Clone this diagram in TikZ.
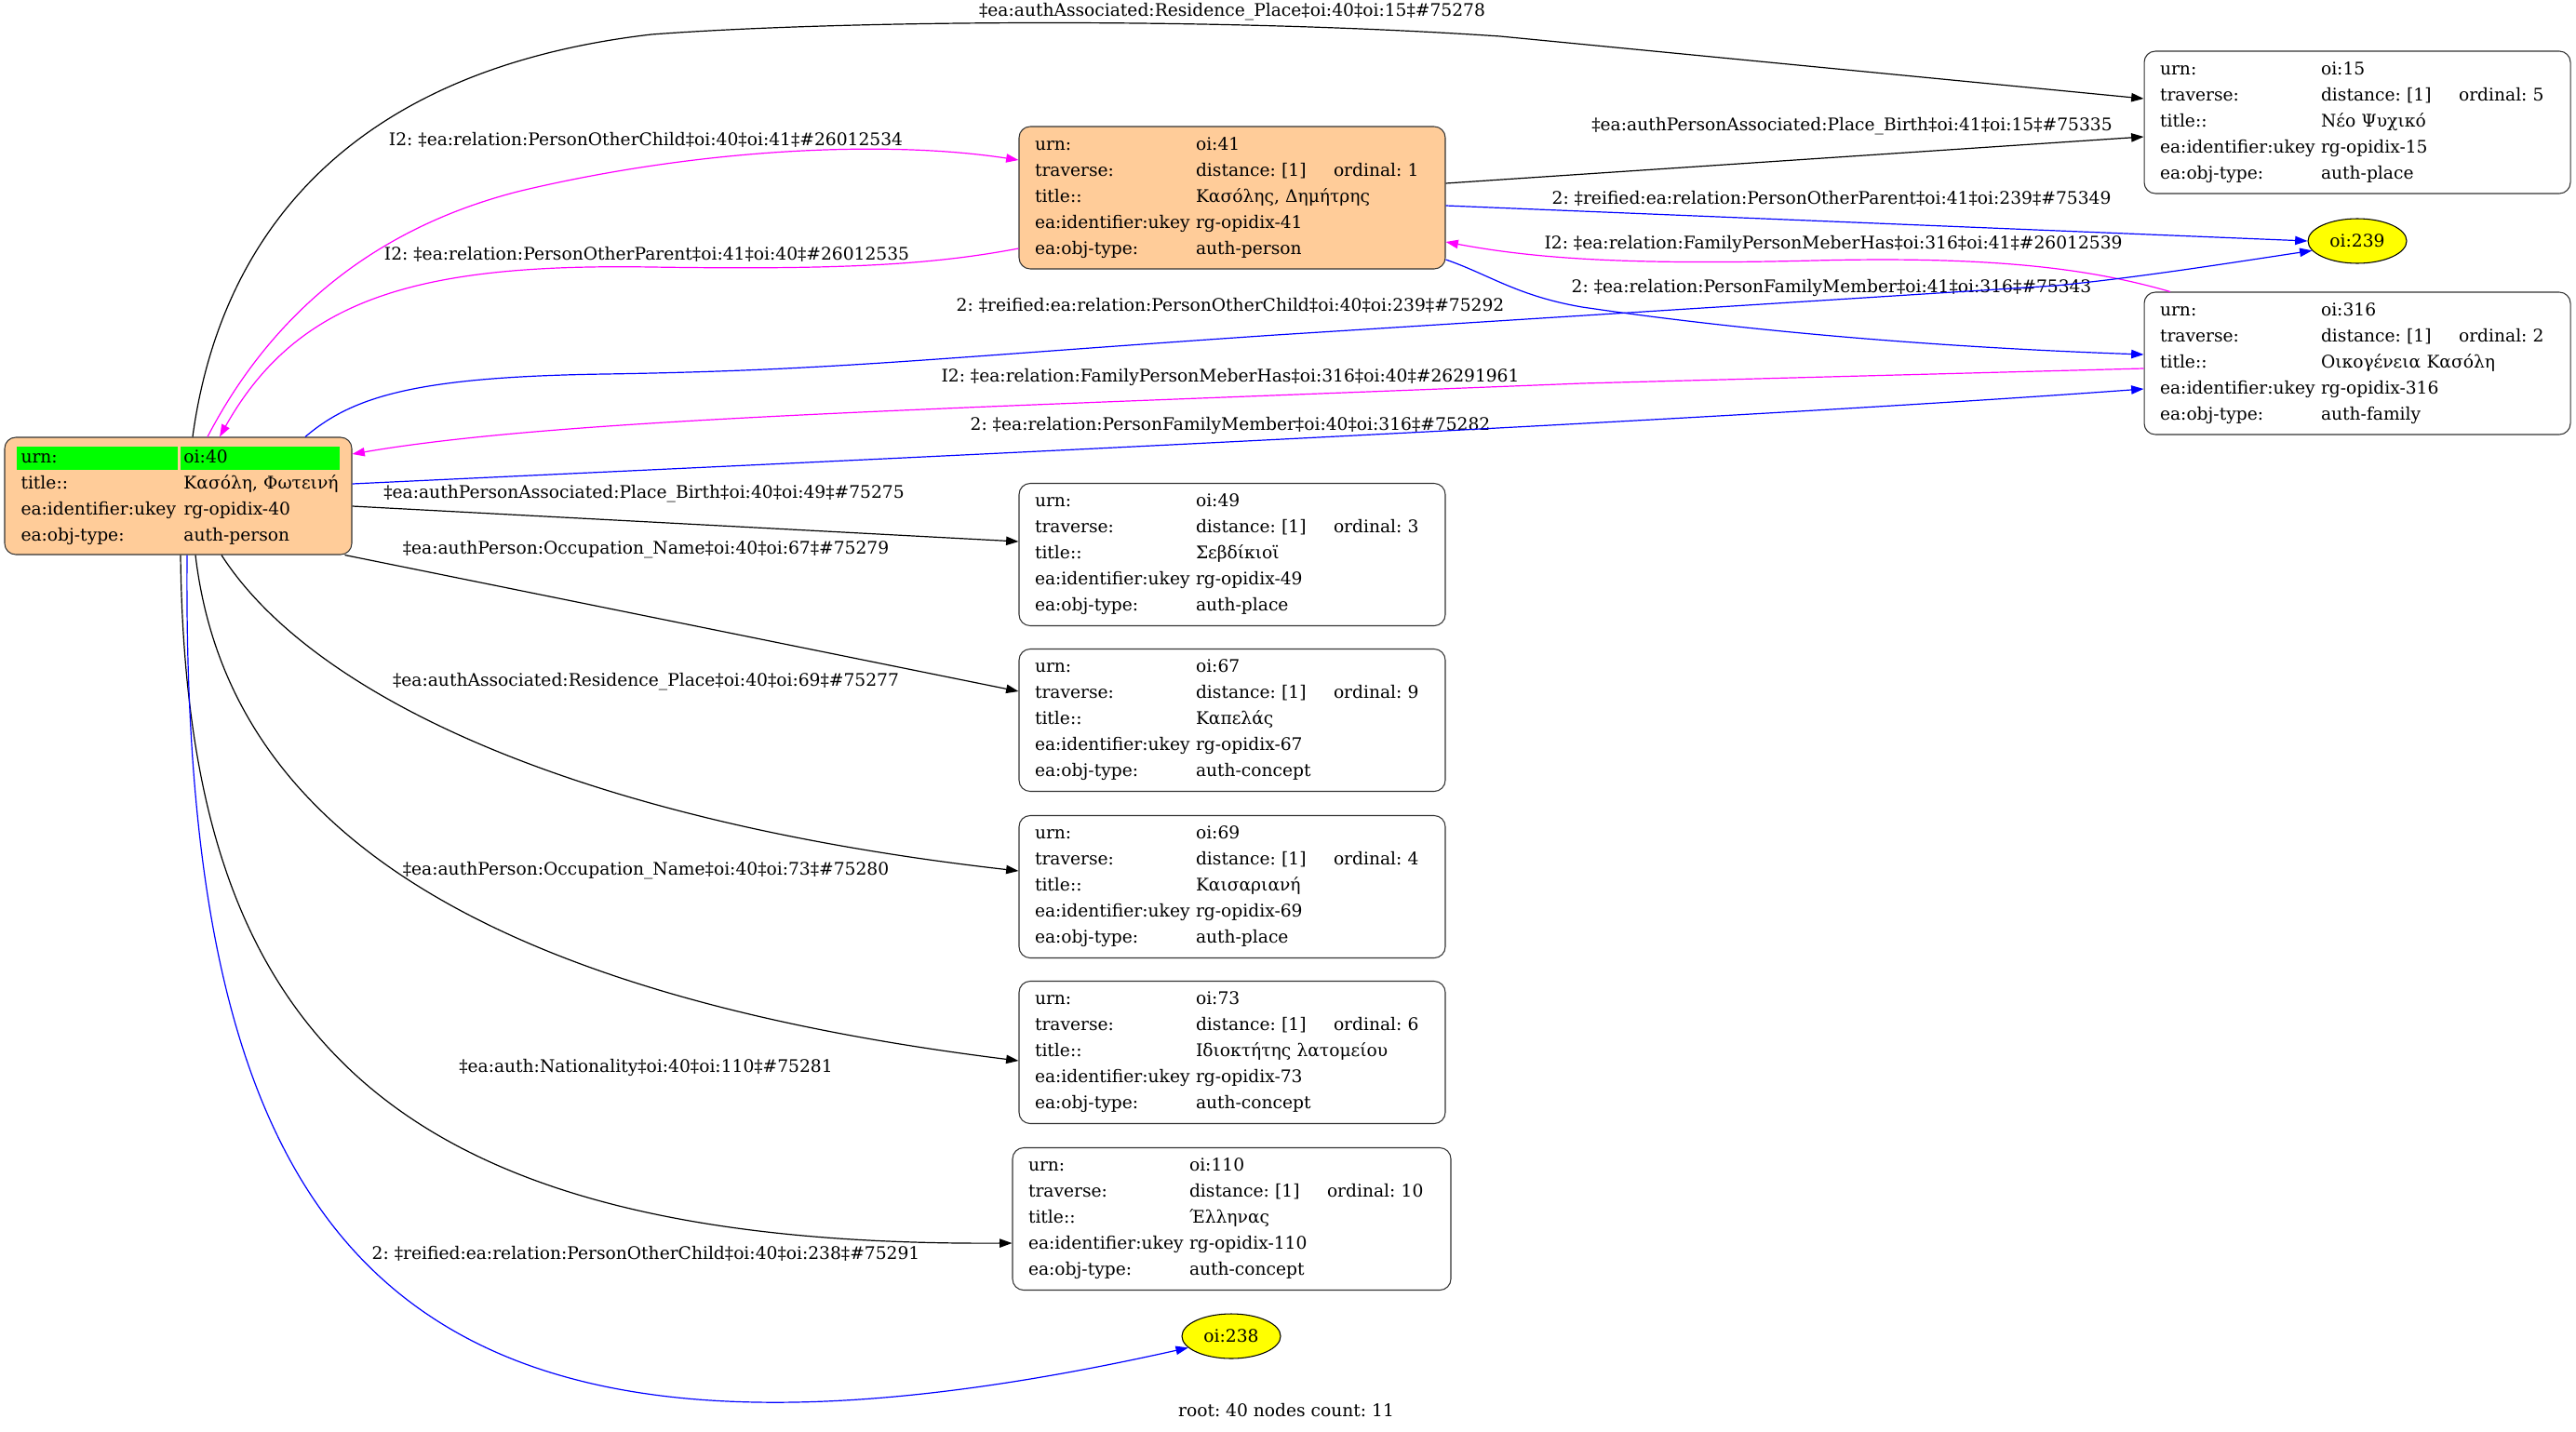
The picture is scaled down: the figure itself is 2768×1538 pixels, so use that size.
\documentclass[tikz,border=0pt]{standalone}
\usepackage{fontspec}
\setmainfont{DejaVu Serif}
\usepackage{tikz}
\usetikzlibrary{arrows.meta, shapes.geometric}

\definecolor{personfill}{HTML}{FFCC99}
\definecolor{relmagenta}{RGB}{255,0,255}
\definecolor{relblue}{RGB}{0,0,255}
\definecolor{rootgreen}{RGB}{0,255,0}
\definecolor{reifiedyellow}{RGB}{255,255,0}

\frenchspacing

% one row of a record: key column, distance column
\newcommand{\keycol}[1]{\makebox[129.75pt][l]{#1}}
\newcommand{\distcol}[1]{\makebox[111pt][l]{#1}}
% id, ordinal, title, type
\newcommand{\recrows}[4]{\keycol{urn:}oi:#1\\
  \keycol{traverse:}\distcol{distance: [1]}ordinal: #2\\
  \keycol{title::}#3\\
  \keycol{ea:identifier:ukey}rg-opidix-#1\\
  \keycol{ea:obj-type:}auth-#4}
% green cell of the root record
\newcommand{\hlcell}[2]{{\setlength{\fboxsep}{0pt}\colorbox{rootgreen}{\makebox[#1][l]{\rule[-6pt]{0pt}{18.75pt}\hspace{3pt}#2}}}}

\begin{document}
\begin{tikzpicture}[x=0.75pt, y=-0.75pt,
  font=\fontsize{14pt}{21pt}\selectfont,
  rec/.style={draw=black!80, line width=0.8pt, rounded corners=9pt, align=left,
    inner xsep=12.75pt, inner ysep=0pt, text width=318pt, minimum height=114.75pt},
  person/.style={rec, fill=personfill},
  reified/.style={ellipse, draw, line width=0.8pt, fill=reifiedyellow, inner sep=0pt,
    minimum width=79.5pt, minimum height=36pt},
  rel/.style={-{Triangle[length=10pt,width=7pt]}, line width=0.9pt},
  elabel/.style={inner sep=0pt}]

\useasboundingbox (0,0) rectangle (2768,1538);

% Root record
\node[person, inner xsep=10.125pt, text width=259.5pt, minimum height=94.5pt] (oi40) at (191.5,533)
  {\hlcell{129pt}{urn:}\hspace{2.25pt}\hlcell{128.25pt}{oi:40}\\
   \hspace*{3pt}\makebox[131.25pt][l]{title::}Κασόλη, Φωτεινή\\
   \hspace*{3pt}\makebox[131.25pt][l]{ea:identifier:ukey}rg-opidix-40\\
   \hspace*{3pt}\makebox[131.25pt][l]{ea:obj-type:}auth-person};

% Records at distance 1
\node[person] (oi41) at (1324,212.5) {\recrows{41}{1}{Κασόλης, Δημήτρης}{person}};
\node[rec] (oi15) at (2533,131.5) {\recrows{15}{5}{Νέο Ψυχικό}{place}};
\node[rec] (oi316) at (2533,390.5) {\recrows{316}{2}{Οικογένεια Κασόλη}{family}};
\node[rec] (oi49) at (1324,596) {\recrows{49}{3}{Σεβδίκιοϊ}{place}};
\node[rec] (oi67) at (1324,774) {\recrows{67}{9}{Καπελάς}{concept}};
\node[rec] (oi69) at (1324,953) {\recrows{69}{4}{Καισαριανή}{place}};
\node[rec] (oi73) at (1324,1131) {\recrows{73}{6}{Ιδιοκτήτης λατομείου}{concept}};
\node[rec, text width=327.75pt] (oi110) at (1323.5,1310) {\recrows{110}{10}{Έλληνας}{concept}};

% Reified ends
\node[reified] (oi239) at (2533,259) {oi:239};
\node[reified] (oi238) at (1323,1436) {oi:238};

\node (count) at (1382,1516) {root: 40 nodes count: 11};

% Edge labels
\node[elabel] (l1) at (1324,13) {‡ea:authAssociated:Residence\_Place‡oi:40‡oi:15‡\#75278};
\node[elabel] (l2) at (694,150) {I2: ‡ea:relation:PersonOtherChild‡oi:40‡oi:41‡\#26012534};
\node[elabel] (l3) at (695,273) {I2: ‡ea:relation:PersonOtherParent‡oi:41‡oi:40‡\#26012535};
\node[elabel] (l4) at (1990,136) {‡ea:authPersonAssociated:Place\_Birth‡oi:41‡oi:15‡\#75335};
\node[elabel] (l5) at (1968,213) {2: ‡reified:ea:relation:PersonOtherParent‡oi:41‡oi:239‡\#75349};
\node[elabel] (l6) at (1970,262) {I2: ‡ea:relation:FamilyPersonMeberHas‡oi:316‡oi:41‡\#26012539};
\node[elabel] (l7) at (1968,309) {2: ‡ea:relation:PersonFamilyMember‡oi:41‡oi:316‡\#75343};
\node[elabel] (l8) at (1322,328) {2: ‡reified:ea:relation:PersonOtherChild‡oi:40‡oi:239‡\#75292};
\node[elabel] (l9) at (1322,405) {I2: ‡ea:relation:FamilyPersonMeberHas‡oi:316‡oi:40‡\#26291961};
\node[elabel] (l10) at (1322,457) {2: ‡ea:relation:PersonFamilyMember‡oi:40‡oi:316‡\#75282};
\node[elabel] (l11) at (692,531) {‡ea:authPersonAssociated:Place\_Birth‡oi:40‡oi:49‡\#75275};
\node[elabel] (l12) at (694,591) {‡ea:authPerson:Occupation\_Name‡oi:40‡oi:67‡\#75279};
\node[elabel] (l13) at (694,733) {‡ea:authAssociated:Residence\_Place‡oi:40‡oi:69‡\#75277};
\node[elabel] (l14) at (694,936) {‡ea:authPerson:Occupation\_Name‡oi:40‡oi:73‡\#75280};
\node[elabel] (l15) at (694,1147) {‡ea:auth:Nationality‡oi:40‡oi:110‡\#75281};
\node[elabel] (l16) at (694,1347) {2: ‡reified:ea:relation:PersonOtherChild‡oi:40‡oi:238‡\#75291};

% Edges around oi:41
\draw[rel] (oi40.north -| 207,0) .. controls (230,300) and (330,80) .. (700,37)
  .. controls (900,22) and (1300,18) .. (1612,39) -- (oi15.west |- 0,106);
\draw[rel, relmagenta] (oi40.north -| 223,0) .. controls (280,360) and (380,250) .. (560,205)
  .. controls (750,160) and (950,150) .. (oi41.west |- 0,172);
\draw[rel, relmagenta] (oi41.west |- 0,267) .. controls (1000,285) and (900,290) .. (700,287)
  .. controls (450,283) and (320,320) .. (oi40.north -| 236,0);
\draw[rel] (oi41.east |- 0,197) -- (oi15.west |- 0,147);
\draw[rel, relblue] (oi41.east |- 0,221) -- (oi239.west);
\draw[rel, relmagenta] (oi316.north -| 2332,0) .. controls (2250,290) and (2150,275) .. (1950,280)
  .. controls (1750,285) and (1650,278) .. (oi41.east |- 0,260);
\draw[rel, relblue] (oi41.east |- 0,279) .. controls (1600,295) and (1630,318) .. (1700,330)
  .. controls (1850,352) and (2050,372) .. (oi316.west |- 0,381);

% Edges between oi:40 and the family
\draw[rel, relblue] (oi40.north -| 328,0) .. controls (380,425) and (450,405) .. (650,402)
  .. controls (900,398) and (1000,385) .. (1371,360) -- (2209,307)
  .. controls (2300,298) and (2400,282) .. (oi239.192);
\draw[rel, relmagenta] (oi316.west |- 0,396) -- (1700,412) .. controls (1000,440) and (600,450) .. (oi40.east |- 0,488);
\draw[rel, relblue] (oi40.east |- 0,520) .. controls (800,500) and (1800,455) .. (oi316.west |- 0,418);

% Edges fanning out below
\draw[rel] (oi40.east |- 0,544) -- (oi49.west |- 0,582);
\draw[rel] ([xshift=-6pt]oi40.south east) -- (oi67.west |- 0,743);
\draw[rel] (oi40.south -| 238,0) .. controls (330,740) and (600,880) .. (oi69.west |- 0,936);
\draw[rel] (oi40.south -| 210,0) .. controls (240,850) and (450,1060) .. (oi73.west |- 0,1140);
\draw[rel] (oi40.south -| 194,0) .. controls (200,1100) and (400,1340) .. (oi110.west |- 0,1336);
\draw[rel, relblue] (oi40.south -| 201,0) .. controls (195,1350) and (420,1640) .. (oi238.195);

\end{tikzpicture}
\end{document}
